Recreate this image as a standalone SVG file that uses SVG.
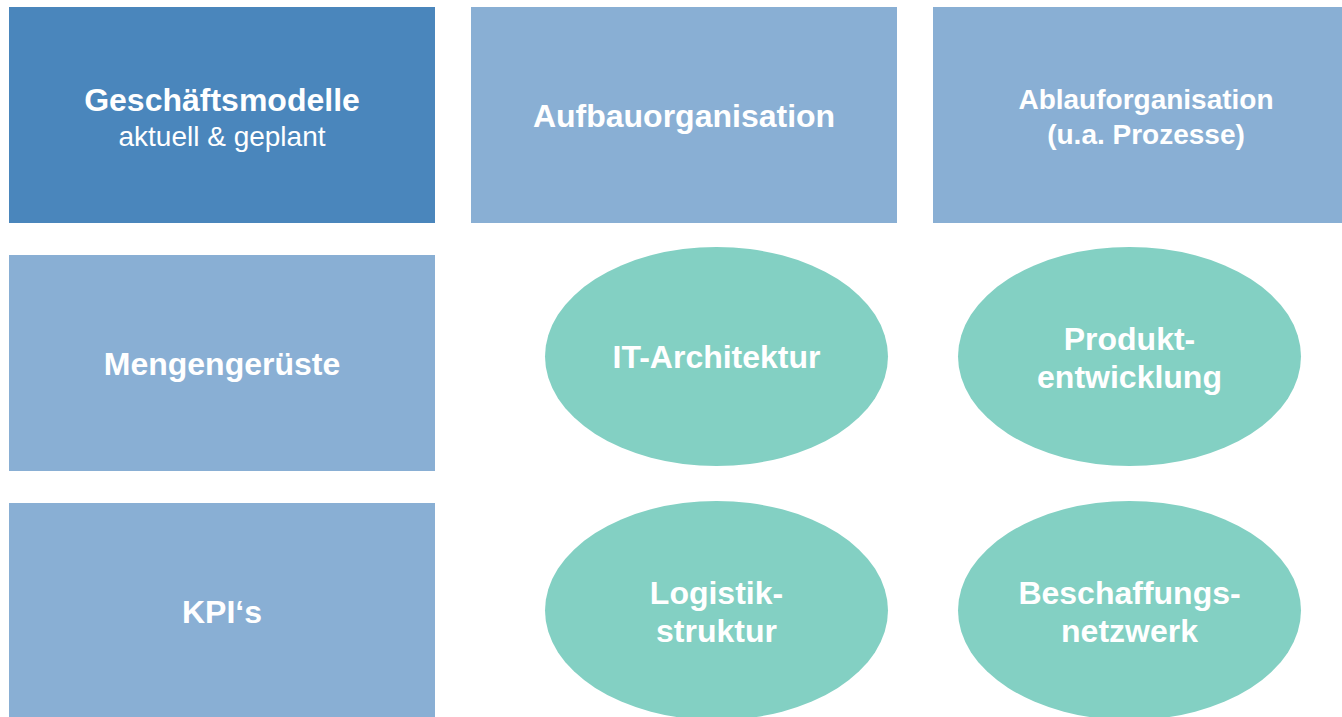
<svg xmlns="http://www.w3.org/2000/svg" width="1342" height="717" viewBox="0 0 1342 717">
<style>
.dark{fill:#4A86BC}
.light{fill:#89AFD4}
.teal{fill:#83D0C3}
text{font-family:"Liberation Sans",Arial,sans-serif;fill:#FFFFFF;text-anchor:middle}
.b{font-weight:bold;font-size:32px}
.b28{font-weight:bold;font-size:28px}
.r{font-size:28px}
</style>
<rect width="1342" height="717" fill="#FFFFFF"/>
<g id="geschaeftsmodelle">
<rect class="dark" x="9" y="7" width="426" height="216"/>
<text class="b" x="222" y="111">Geschäftsmodelle</text>
<text class="r" x="222" y="146">aktuell &amp; geplant</text>
</g>
<g id="aufbauorganisation">
<rect class="light" x="471" y="7" width="426" height="216"/>
<text class="b" x="684" y="127">Aufbauorganisation</text>
</g>
<g id="ablauforganisation">
<rect class="light" x="933" y="7" width="426" height="216"/>
<text class="b28" x="1146" y="109">Ablauforganisation</text>
<text class="b28" x="1146" y="144">(u.a. Prozesse)</text>
</g>
<g id="mengengerueste">
<rect class="light" x="9" y="255" width="426" height="216"/>
<text class="b" x="222" y="375">Mengengerüste</text>
</g>
<g id="kpis">
<rect class="light" x="9" y="503" width="426" height="216"/>
<text class="b" x="222" y="623">KPI‘s</text>
</g>
<g id="it-architektur">
<ellipse class="teal" cx="716.5" cy="356.5" rx="171.5" ry="109.5"/>
<text class="b" x="716.5" y="368">IT-Architektur</text>
</g>
<g id="produktentwicklung">
<ellipse class="teal" cx="1129.5" cy="356.5" rx="171.5" ry="109.5"/>
<text class="b" x="1129.5" y="350">Produkt-</text>
<text class="b" x="1129.5" y="388">entwicklung</text>
</g>
<g id="logistikstruktur">
<ellipse class="teal" cx="716.5" cy="610.5" rx="171.5" ry="109.5"/>
<text class="b" x="716.5" y="604">Logistik-</text>
<text class="b" x="716.5" y="642">struktur</text>
</g>
<g id="beschaffungsnetzwerk">
<ellipse class="teal" cx="1129.5" cy="610.5" rx="171.5" ry="109.5"/>
<text class="b" x="1129.5" y="604">Beschaffungs-</text>
<text class="b" x="1129.5" y="642">netzwerk</text>
</g>
<g id="connectors"/>
</svg>
